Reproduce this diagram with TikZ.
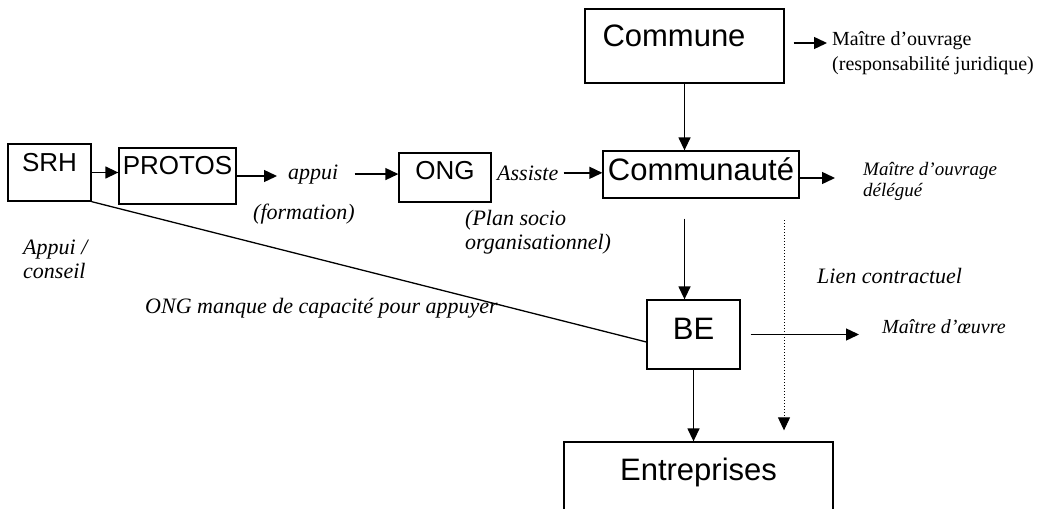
\documentclass[tikz,border=0pt]{standalone}
\usepackage{fontspec}
\setmainfont{Liberation Serif}
\setsansfont{Liberation Sans}
\usetikzlibrary{arrows.meta}
\tikzset{
  box/.style={draw, line width=1.3pt, inner sep=0pt,
    font=\sffamily\fontsize{26}{26}\selectfont},
  bigbox/.style={box, font=\sffamily\fontsize{31}{31}\selectfont},
  note/.style={inner sep=0pt, align=left,
    font=\itshape\fontsize{22}{24}\selectfont},
  arr/.style={line width=1.4pt, -{Triangle[length=13pt, width=12pt]}},
}
\begin{document}
\begin{tikzpicture}[x=1pt, y=-1pt]
                \clip (0, 0) rectangle (1040, 508);
                % boites
                \node [box, minimum width=83pt, text height=27pt,
                    text depth=30pt] (srh) at (49.5, 172.5) {SRH};
                \node [box, minimum width=117pt, text height=26pt,
                    text depth=30pt] (protos) at (177.5, 176) {PROTOS};
                \node [box, minimum width=92pt, text height=26pt,
                    text depth=23pt] (ong) at (445, 177.5) {ONG};
                \node [bigbox, minimum width=199pt, text height=38pt,
                    text depth=36pt] (commune) at (684.5, 46)
                    {Commune\hspace*{21pt}};
                \node [bigbox, minimum width=196pt, text height=29pt,
                    text depth=18pt] (communaute) at (701, 174.5) {Communauté};
                \node [bigbox, minimum width=93pt, text height=39pt,
                    text depth=30pt] (be) at (693.5, 334.5) {BE};
                \node [bigbox, minimum width=269pt, text height=38pt,
                    text depth=52pt] (entreprises) at (698.5, 487) {Entreprises};
                % textes
                \node [note, anchor=base west] (appui) at (288, 179) {appui};
                \node [note, anchor=base west] (formation) at (253, 219)
                    {(formation)};
                \node [note, anchor=base west] (assiste) at (497, 180) {Assiste};
                \node [note, anchor=north west] (plan) at (465, 210)
                    {(Plan socio\\organisationnel)};
                \node [note, anchor=north west] (conseil) at (23, 240)
                    {Appui /\\conseil};
                \node [note, anchor=base west] (manque) at (145, 313)
                    {ONG manque de capacité pour appuyer};
                \node [note, anchor=base west] (lien) at (817, 283)
                    {Lien contractuel};
                \node [note, anchor=base west,
                    font=\itshape\fontsize{20}{20}\selectfont] (moe) at (882, 333)
                    {Maître d’œuvre};
                \node [note, anchor=north west,
                    font=\fontsize{20}{25}\selectfont] (moj) at (832, 31.5)
                    {Maître d’ouvrage\\(responsabilité juridique)};
                \node [note, anchor=north west,
                    font=\itshape\fontsize{19}{21}\selectfont] (mod) at (863, 162)
                    {Maître d’ouvrage\\délégué};
                % fleches
                \draw [arr] (srh.east) -- (srh.east -| protos.west);
                \draw [arr, shorten >=11pt] (protos.east) -- (protos.east -| appui.west);
                \draw [arr, shorten <=16pt] (appui.east) -- (appui.east -| ong.west);
                \draw [arr, shorten <=5pt] (assiste.east) --
                    (assiste.east -| communaute.west);
                \draw [arr, shorten <=9pt, shorten >=5pt] ([yshift=3pt]commune.east) --
                    ([yshift=3pt]commune.east -| moj.west);
                \draw [arr, shorten >=28pt] ([yshift=-3.5pt]communaute.east) --
                    ([yshift=-3.5pt]communaute.east -| mod.west);
                \draw [arr] (commune.south) -- (commune.south |- communaute.north);
                \draw [arr, shorten <=20pt] (commune.south |- communaute.south) --
                    (commune.south |- be.north);
                \draw [arr, shorten <=10pt, shorten >=23pt] (be.east) --
                    (be.east -| moe.west);
                \draw [arr] (be.south) -- (be.south |- entreprises.north);
                \coordinate (contrat) at (784, 220);
                \draw [arr, line width=1pt, dotted, shorten >=11pt] (contrat) --
                    (contrat |- entreprises.north);
                \draw [line width=1.3pt] (srh.south east) -- ([yshift=-7.5pt]be.west);
\end{tikzpicture}
\end{document}
